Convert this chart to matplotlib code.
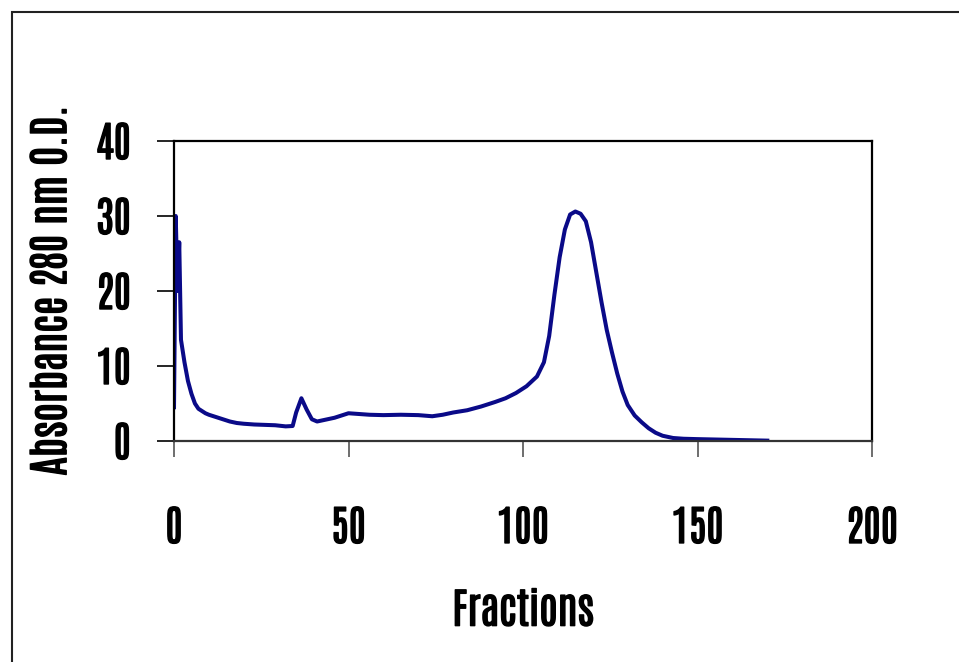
import matplotlib
matplotlib.use("Agg")
import matplotlib.pyplot as plt
import matplotlib.patheffects as pe
from matplotlib.patches import Rectangle

# Elution profile
fractions = [0, 0.5, 1.0, 1.5, 2.0, 3, 4, 5, 6, 7, 8, 9, 10, 12, 14, 16, 18, 20,
             23, 26, 29, 32, 34, 35, 36.5, 38, 39.5, 41, 43, 46, 48, 50, 53, 56,
             60, 65, 70, 74, 77, 80, 84, 88, 92, 95, 98, 101, 104, 106, 107.5,
             109, 110.5, 112, 113.5, 115, 116.5, 118, 119.5, 121, 122.5, 124,
             125.5, 127, 128.5, 130, 132, 134, 136, 138, 140, 143, 146, 150,
             155, 160, 165, 170]
absorbance = [4.5, 30.0, 20.0, 26.5, 13.5, 10.5, 8.0, 6.3, 5.0, 4.3, 4.0, 3.7,
              3.5, 3.2, 2.9, 2.6, 2.4, 2.3, 2.2, 2.15, 2.1, 1.95, 2.0, 3.8, 5.7,
              4.2, 2.9, 2.6, 2.8, 3.1, 3.4, 3.7, 3.6, 3.5, 3.45, 3.5, 3.45, 3.3,
              3.5, 3.8, 4.1, 4.6, 5.2, 5.7, 6.4, 7.3, 8.6, 10.5, 14.0, 19.5,
              24.5, 28.2, 30.2, 30.6, 30.3, 29.3, 26.5, 22.5, 18.5, 14.8, 11.8,
              9.0, 6.6, 4.8, 3.4, 2.5, 1.7, 1.1, 0.7, 0.4, 0.3, 0.25, 0.2, 0.15,
              0.1, 0.05]

x_ticks = [0, 50, 100, 150, 200]
y_ticks = [0, 10, 20, 30, 40]

# condensed face close to the original, DejaVu as fallback
plt.rcParams["font.family"] = ["Antonio", "Oswald", "DejaVu Sans"]
plt.rcParams["font.weight"] = "bold"

# thicken the light condensed glyphs a little
bold_fx = [pe.withStroke(linewidth=1.0, foreground="black")]

fig = plt.figure(figsize=(9.59, 6.62), dpi=100)

# outer frame (open to the right and bottom edges)
fig.patches.append(Rectangle((12 / 959, -0.1), 1.2, 1 - 12 / 662 + 0.1,
                             transform=fig.transFigure, fill=False,
                             edgecolor="#222222", linewidth=1.5))

ax = fig.add_axes([174 / 959, 1 - 441 / 662, 698 / 959, 300 / 662])
ax.plot(fractions, absorbance, color="#0a0a88", linewidth=2.9,
        solid_joinstyle="round")

ax.set_xlim(0, 200)
ax.set_ylim(0, 40)
ax.set_xticks(x_ticks)
ax.set_yticks(y_ticks)

for side in ["left", "top", "right"]:
    ax.spines[side].set_color("black")
    ax.spines[side].set_linewidth(1.6)
ax.spines["bottom"].set_color("#333333")
ax.spines["bottom"].set_linewidth(1.6)

ax.tick_params(axis="y", direction="out", length=12, width=1.2,
               color="black", pad=19, labelsize=30)
ax.tick_params(axis="x", direction="out", length=11.5, width=1.2,
               color="#555555", pad=36, labelsize=30)

ax.set_xlabel("Fractions", fontsize=30, fontweight="bold", labelpad=30)
ax.set_ylabel("Absorbance 280 nm O.D.", fontsize=30, fontweight="bold",
              labelpad=18)

for t in ax.get_xticklabels() + ax.get_yticklabels():
    t.set_path_effects(bold_fx)
ax.xaxis.label.set_path_effects(bold_fx)
ax.yaxis.label.set_path_effects(bold_fx)

fig.savefig("out.png", dpi=100)
